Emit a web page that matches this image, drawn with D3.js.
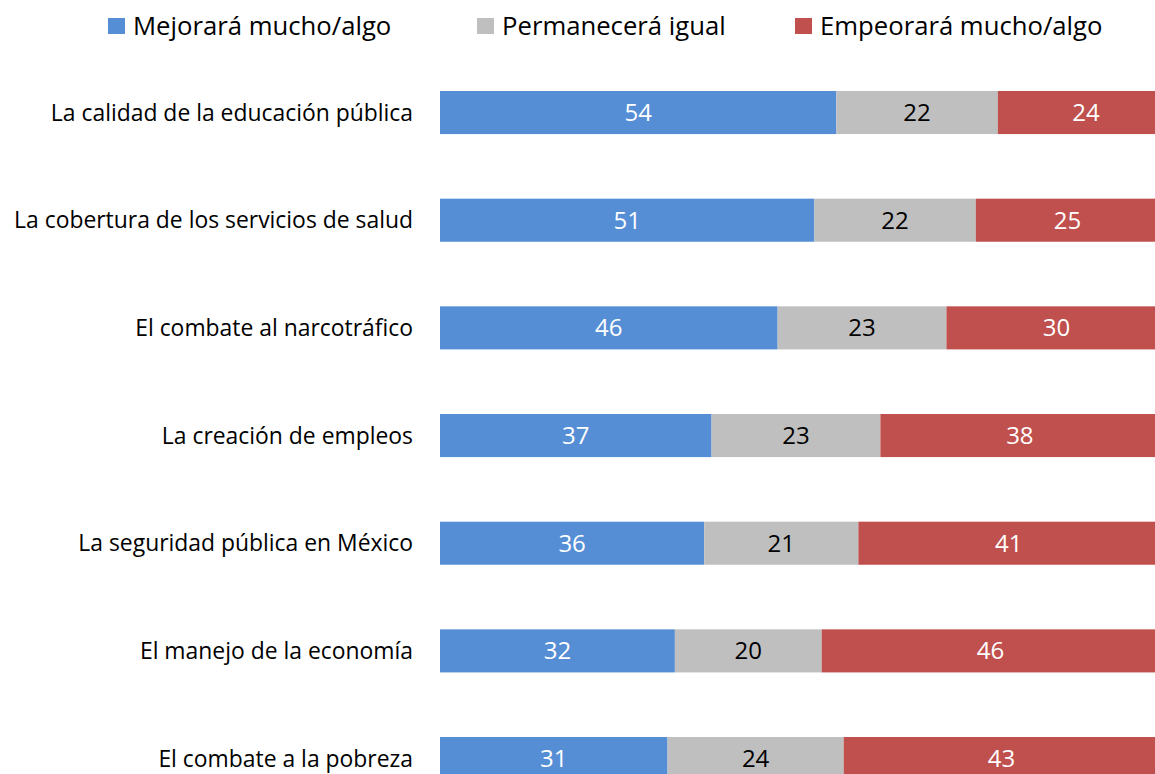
<!DOCTYPE html>
<html>
<head>
<meta charset="utf-8">
<script src="https://cdn.jsdelivr.net/npm/d3@7"></script>
<style>
  html, body { margin: 0; padding: 0; background: #fff; overflow: hidden; }
  svg { display: block; font-family: "Open Sans", sans-serif; }
</style>
</head>
<body>
<div id="chart"></div>
<script>
const categories = [
  'La calidad de la educación pública',
  'La cobertura de los servicios de salud',
  'El combate al narcotráfico',
  'La creación de empleos',
  'La seguridad pública en México',
  'El manejo de la economía',
  'El combate a la pobreza'
];
const seriesNames = ['Mejorará mucho/algo', 'Permanecerá igual', 'Empeorará mucho/algo'];
const mejorara = [54, 51, 46, 37, 36, 32, 31];
const permanecera = [22, 22, 23, 23, 21, 20, 24];
const empeorara = [24, 25, 30, 38, 41, 46, 43];
const colors = ['#558ED5', '#BFBFBF', '#C0504D'];
const textColors = ['#ffffff', '#000000', '#ffffff'];

const width = 1155, height = 774;

const svg = d3.select('#chart')
  .append('svg')
  .attr('width', width)
  .attr('height', height);

const rows = categories.map((c, i) => ({
  cat: c, values: [mejorara[i], permanecera[i], empeorara[i]]
}));

const stack = d3.stack()
  .keys([0, 1, 2])
  .value((d, k) => d.values[k]);
const layers = stack(rows);

const x = d3.scaleLinear().domain([0, 100]).range([440, 1174]);
const y = d3.scaleBand()
  .domain(categories)
  .range([58.7, 58.7 + 7 * 107.67])
  .paddingInner(0.6)
  .paddingOuter(0.3);

// category labels
svg.append('g')
  .selectAll('text')
  .data(categories)
  .enter()
  .append('text')
  .attr('x', 413)
  .attr('y', d => y(d) + y.bandwidth() / 2)
  .attr('dy', '0.35em')
  .attr('text-anchor', 'end')
  .style('font-size', '22.9px')
  .style('fill', '#000')
  .text(d => d);

// bars
const groups = svg.append('g')
  .selectAll('g')
  .data(layers)
  .enter()
  .append('g')
  .attr('fill', d => colors[d.key]);

groups.selectAll('rect')
  .data(d => d)
  .enter()
  .append('rect')
  .attr('x', d => x(d[0]))
  .attr('y', d => y(d.data.cat))
  .attr('width', d => x(d[1]) - x(d[0]))
  .attr('height', y.bandwidth());

// value labels
groups.selectAll('text')
  .data(d => d.map(p => ({ p, key: d.key })))
  .enter()
  .append('text')
  .attr('x', d => (x(d.p[0]) + x(d.p[1])) / 2)
  .attr('y', d => y(d.p.data.cat) + y.bandwidth() / 2)
  .attr('dy', '0.35em')
  .attr('text-anchor', 'middle')
  .style('font-size', '24px')
  .style('fill', d => textColors[d.key])
  .text(d => d.p[1] - d.p[0]);

// legend
const legendX = [108, 477, 795];
const legend = svg.append('g')
  .selectAll('g')
  .data(seriesNames)
  .enter()
  .append('g')
  .attr('transform', (d, i) => 'translate(' + legendX[i] + ',26)');
legend.append('rect')
  .attr('x', 0)
  .attr('y', -8)
  .attr('width', 17)
  .attr('height', 16)
  .attr('fill', (d, i) => colors[i]);
legend.append('text')
  .attr('x', 25)
  .attr('dy', '0.35em')
  .style('font-size', '25.7px')
  .style('fill', '#000')
  .text(d => d);
</script>
</body>
</html>
